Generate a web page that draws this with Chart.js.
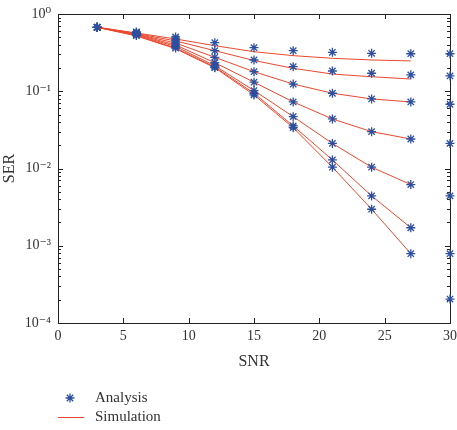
<!DOCTYPE html>
<html>
<head>
<meta charset="utf-8">
<script src="https://cdn.jsdelivr.net/npm/chart.js@4.4.1/dist/chart.umd.min.js"></script>
<style>
  html, body { margin: 0; padding: 0; background: #fff; overflow: hidden; }
</style>
</head>
<body>
<canvas id="myChart" width="457" height="430"></canvas>
<script>
// SNR points for the analysis markers and the simulation curves
const snr = [3, 6, 9, 12, 15, 18, 21, 24, 27, 30];
const snrSim = [3, 6, 9, 12, 15, 18, 21, 24, 27];

// analysis (blue stars), one array per curve, top to bottom
const analysis1 = [0.673, 0.585, 0.504, 0.425, 0.366, 0.335, 0.319, 0.31, 0.306, 0.306];
const analysis2 = [0.673, 0.576, 0.475, 0.335, 0.254, 0.208, 0.183, 0.171, 0.163, 0.158];
const analysis3 = [0.673, 0.568, 0.448, 0.275, 0.179, 0.124, 0.0942, 0.0795, 0.0727, 0.0679];
const analysis4 = [0.673, 0.56, 0.421, 0.234, 0.131, 0.0727, 0.0438, 0.03, 0.0241, 0.0211];
const analysis5 = [0.673, 0.551, 0.397, 0.214, 0.102, 0.0469, 0.0211, 0.0104, 0.00619, 0.00442];
const analysis6 = [0.673, 0.535, 0.38, 0.206, 0.0942, 0.0356, 0.0129, 0.00442, 0.00171, 0.00079];
const analysis7 = [0.673, 0.527, 0.363, 0.202, 0.0895, 0.0338, 0.0104, 0.00297, 0.00079, 0.000204];

// simulation (red lines)
const sim1 = [0.673, 0.568, 0.475, 0.389, 0.325, 0.289, 0.267, 0.254, 0.247];
const sim2 = [0.673, 0.56, 0.448, 0.335, 0.25, 0.198, 0.167, 0.154, 0.144];
const sim3 = [0.673, 0.551, 0.421, 0.275, 0.179, 0.124, 0.0942, 0.0795, 0.0727];
const sim4 = [0.673, 0.545, 0.397, 0.234, 0.131, 0.0727, 0.0438, 0.03, 0.0241];
const sim5 = [0.673, 0.535, 0.38, 0.214, 0.102, 0.0469, 0.0211, 0.0104, 0.00619];
const sim6 = [0.673, 0.527, 0.363, 0.206, 0.0942, 0.0356, 0.0129, 0.00442, 0.00171];
const sim7 = [0.673, 0.52, 0.355, 0.202, 0.0895, 0.0338, 0.0104, 0.00297, 0.00079];

const xTicks = [0, 5, 10, 15, 20, 25, 30];
const yDecades = [-4, -3, -2, -1, 0];

const blue = "#2d4f9e";
const red = "rgb(234, 72, 46)";
const textColor = "#333";
const serif = '"Liberation Serif", "DejaVu Serif", serif';

const sup = { "0": "\u2070", "1": "\u00b9", "2": "\u00b2", "3": "\u00b3", "4": "\u2074", "-": "\u207b" };
const power = (e) => "10" + String(e).split("").map((c) => sup[c]).join("");

const pts = (xs, ys) => xs.map((x, i) => ({ x: x, y: ys[i] }));

const analysisSets = [analysis1, analysis2, analysis3, analysis4, analysis5, analysis6, analysis7];
const simSets = [sim1, sim2, sim3, sim4, sim5, sim6, sim7];

const datasets = [];
simSets.forEach((s) => {
  datasets.push({
    label: "Simulation",
    data: pts(snrSim, s),
    borderColor: red,
    borderWidth: 1,
    pointRadius: 0,
    fill: false,
    tension: 0,
    order: 2,
    clip: false,
  });
});
analysisSets.forEach((a) => {
  datasets.push({
    label: "Analysis",
    data: pts(snr, a),
    showLine: false,
    pointStyle: "star",
    pointRadius: 4.5,
    pointBorderWidth: 1.3,
    pointBorderColor: blue,
    pointBackgroundColor: blue,
    order: 1,
    clip: false,
  });
});

// box with inward ticks, and the legend under the plot
const frame = {
  id: "frame",
  beforeDatasetsDraw(chart) {
    const { ctx, chartArea: a, scales } = chart;
    ctx.save();
    ctx.strokeStyle = "#222";
    ctx.lineWidth = 1;
    ctx.beginPath();
    xTicks.forEach((v) => {
      const px = Math.round(scales.x.getPixelForValue(v)) + 0.5;
      ctx.moveTo(px, a.bottom);
      ctx.lineTo(px, a.bottom - 5);
      ctx.moveTo(px, a.top);
      ctx.lineTo(px, a.top + 5);
    });
    yDecades.forEach((d) => {
      for (let k = 1; k <= 9; k++) {
        const v = k * Math.pow(10, d);
        if (v > 1.0001) break;
        const py = Math.round(scales.y.getPixelForValue(v)) + 0.5;
        const len = k === 1 ? 5 : 3;
        ctx.moveTo(a.left, py);
        ctx.lineTo(a.left + len, py);
        ctx.moveTo(a.right, py);
        ctx.lineTo(a.right - len, py);
      }
    });
    ctx.stroke();
    ctx.strokeRect(Math.round(a.left) + 0.5, Math.round(a.top) + 0.5,
      Math.round(a.right - a.left), Math.round(a.bottom - a.top));
    ctx.restore();
  },
  afterDraw(chart) {
    const ctx = chart.ctx;
    ctx.save();
    ctx.strokeStyle = blue;
    ctx.fillStyle = blue;
    Chart.helpers.drawPoint(ctx, { pointStyle: "star", radius: 4.5, borderWidth: 1.3 }, 70, 398);
    ctx.strokeStyle = red;
    ctx.lineWidth = 1;
    ctx.beginPath();
    ctx.moveTo(58, 417.5);
    ctx.lineTo(84, 417.5);
    ctx.stroke();
    ctx.fillStyle = textColor;
    ctx.font = "15px " + serif;
    ctx.textBaseline = "middle";
    ctx.fillText("Analysis", 95, 398);
    ctx.fillText("Simulation", 95, 417);
    ctx.restore();
  },
};

const ctx = document.getElementById("myChart");

new Chart(ctx, {
  type: "line",
  data: { datasets: datasets },
  options: {
    responsive: false,
    animation: false,
    layout: { padding: { top: 14, right: 7, bottom: 0, left: 0 } },
    plugins: {
      legend: { display: false },
      tooltip: { enabled: false },
    },
    scales: {
      x: {
        type: "linear",
        min: 0,
        max: 30,
        afterBuildTicks(scale) {
          scale.ticks = xTicks.map((v) => ({ value: v }));
        },
        afterFit(scale) {
          scale.height = 107;
          scale.paddingLeft = 0;
          scale.paddingRight = 0;
        },
        grid: { display: false, drawTicks: false },
        border: { display: false },
        ticks: {
          color: textColor,
          font: { family: serif, size: 14 },
          padding: 5,
          maxRotation: 0,
          autoSkip: false,
        },
        title: {
          display: true,
          text: "SNR",
          color: textColor,
          font: { family: serif, size: 16 },
          padding: { top: 0, bottom: 59 },
        },
      },
      y: {
        type: "logarithmic",
        min: 1e-4,
        max: 1,
        afterBuildTicks(scale) {
          scale.ticks = yDecades.map((d) => ({ value: Math.pow(10, d) }));
        },
        afterFit(scale) {
          scale.width = 58;
          scale.paddingTop = 0;
          scale.paddingBottom = 0;
        },
        grid: { display: false, drawTicks: false },
        border: { display: false },
        ticks: {
          color: textColor,
          font: { family: serif, size: 14 },
          padding: 7,
          autoSkip: false,
          callback: (v) => power(Math.round(Math.log10(v))),
        },
        title: {
          display: true,
          text: "SER",
          color: textColor,
          font: { family: serif, size: 16 },
          padding: { top: 0, bottom: 0 },
        },
      },
    },
  },
  plugins: [frame],
});
</script>
</body>
</html>
